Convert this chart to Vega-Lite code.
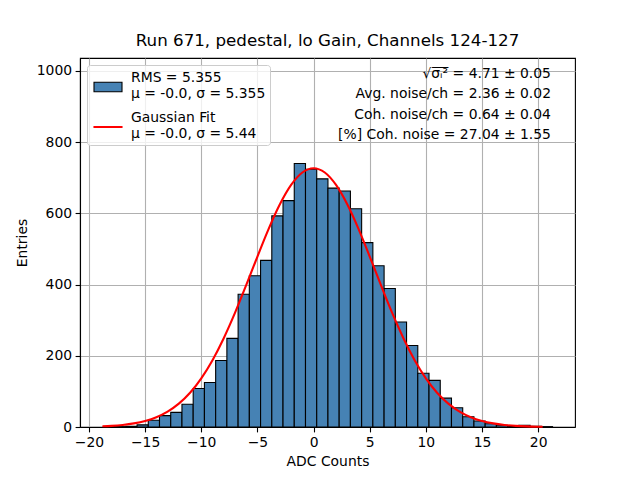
{
  "$schema": "https://vega.github.io/schema/vega-lite/v6.json",
  "description": "Pedestal noise histogram with Gaussian fit",
  "autosize": {"type": "none"},
  "padding": {"left": 80, "top": 58, "right": 65, "bottom": 53},
  "width": 495,
  "height": 369,
  "background": "white",
  "config": {
    "font": "DejaVu Sans",
    "view": {"stroke": "black", "strokeWidth": 1.1},
    "axis": {
      "labelFontSize": 13.9,
      "titleFontSize": 13.9,
      "titleFontWeight": "normal",
      "labelColor": "black",
      "titleColor": "black",
      "tickColor": "black",
      "tickSize": 4.9,
      "tickWidth": 1.1,
      "domainColor": "black",
      "domainWidth": 1.1,
      "gridColor": "#b0b0b0",
      "gridWidth": 1.1,
      "labelPadding": 3.5,
      "labelFlush": false,
      "labelOverlap": false,
      "zindex": 1
    }
  },
  "title": {
    "text": "Run 671, pedestal, lo Gain, Channels 124-127",
    "fontSize": 16.7,
    "fontWeight": "normal",
    "color": "black",
    "anchor": "middle",
    "frame": "group",
    "offset": 8
  },
  "datasets": {
    "hist": [
      {"lo": -18.72, "hi": -17.72, "entries": 1},
      {"lo": -17.72, "hi": -16.72, "entries": 1},
      {"lo": -16.72, "hi": -15.72, "entries": 2},
      {"lo": -15.72, "hi": -14.72, "entries": 6},
      {"lo": -14.72, "hi": -13.72, "entries": 19},
      {"lo": -13.72, "hi": -12.72, "entries": 32},
      {"lo": -12.72, "hi": -11.72, "entries": 41},
      {"lo": -11.72, "hi": -10.72, "entries": 64},
      {"lo": -10.72, "hi": -9.72, "entries": 108},
      {"lo": -9.72, "hi": -8.72, "entries": 125},
      {"lo": -8.72, "hi": -7.72, "entries": 187},
      {"lo": -7.72, "hi": -6.72, "entries": 249},
      {"lo": -6.72, "hi": -5.72, "entries": 373},
      {"lo": -5.72, "hi": -4.72, "entries": 425},
      {"lo": -4.72, "hi": -3.72, "entries": 468},
      {"lo": -3.72, "hi": -2.72, "entries": 593},
      {"lo": -2.72, "hi": -1.72, "entries": 636},
      {"lo": -1.72, "hi": -0.72, "entries": 740},
      {"lo": -0.72, "hi": 0.28, "entries": 724},
      {"lo": 0.28, "hi": 1.28, "entries": 697},
      {"lo": 1.28, "hi": 2.28, "entries": 671},
      {"lo": 2.28, "hi": 3.28, "entries": 663},
      {"lo": 3.28, "hi": 4.28, "entries": 613},
      {"lo": 4.28, "hi": 5.28, "entries": 518},
      {"lo": 5.28, "hi": 6.28, "entries": 453},
      {"lo": 6.28, "hi": 7.28, "entries": 389},
      {"lo": 7.28, "hi": 8.28, "entries": 295},
      {"lo": 8.28, "hi": 9.28, "entries": 229},
      {"lo": 9.28, "hi": 10.28, "entries": 151},
      {"lo": 10.28, "hi": 11.28, "entries": 131},
      {"lo": 11.28, "hi": 12.28, "entries": 81},
      {"lo": 12.28, "hi": 13.28, "entries": 54},
      {"lo": 13.28, "hi": 14.28, "entries": 29},
      {"lo": 14.28, "hi": 15.28, "entries": 17},
      {"lo": 15.28, "hi": 16.28, "entries": 9},
      {"lo": 16.28, "hi": 17.28, "entries": 5},
      {"lo": 17.28, "hi": 18.28, "entries": 3},
      {"lo": 18.28, "hi": 19.28, "entries": 5},
      {"lo": 19.28, "hi": 20.28, "entries": 2},
      {"lo": 20.28, "hi": 21.28, "entries": 1}
    ],
    "fit": [
      {"adc": -18.8, "fit": 2.0},
      {"adc": -18, "fit": 3.2},
      {"adc": -17, "fit": 5.8},
      {"adc": -16, "fit": 10.1},
      {"adc": -15, "fit": 16.9},
      {"adc": -14, "fit": 27.5},
      {"adc": -13, "fit": 43.2},
      {"adc": -12, "fit": 65.6},
      {"adc": -11, "fit": 96.3},
      {"adc": -10, "fit": 136.8},
      {"adc": -9, "fit": 187.8},
      {"adc": -8, "fit": 249.5},
      {"adc": -7, "fit": 320.5},
      {"adc": -6, "fit": 398.4},
      {"adc": -5, "fit": 478.7},
      {"adc": -4, "fit": 556.5},
      {"adc": -3, "fit": 625.5},
      {"adc": -2, "fit": 680.0},
      {"adc": -1, "fit": 714.9},
      {"adc": 0, "fit": 727.0},
      {"adc": 1, "fit": 714.9},
      {"adc": 2, "fit": 680.0},
      {"adc": 3, "fit": 625.5},
      {"adc": 4, "fit": 556.5},
      {"adc": 5, "fit": 478.7},
      {"adc": 6, "fit": 398.4},
      {"adc": 7, "fit": 320.5},
      {"adc": 8, "fit": 249.5},
      {"adc": 9, "fit": 187.8},
      {"adc": 10, "fit": 136.8},
      {"adc": 11, "fit": 96.3},
      {"adc": 12, "fit": 65.6},
      {"adc": 13, "fit": 43.2},
      {"adc": 14, "fit": 27.5},
      {"adc": 15, "fit": 16.9},
      {"adc": 16, "fit": 10.1},
      {"adc": 17, "fit": 5.8},
      {"adc": 18, "fit": 3.2},
      {"adc": 19, "fit": 1.7},
      {"adc": 20, "fit": 0.9},
      {"adc": 20.4, "fit": 0.7}
    ],
    "legend": [
      {"series": "RMS = 5.355|μ = -0.0, σ = 5.355"},
      {"series": "Gaussian Fit|μ = -0.0, σ = 5.44"}
    ]
  },
  "layer": [
    {
      "data": {"name": "hist"},
      "mark": {"type": "bar", "fill": "#4682b4", "stroke": "black", "strokeWidth": 1.1},
      "encoding": {
        "x": {
          "field": "lo",
          "type": "quantitative",
          "scale": {"domain": [-20.8, 23.28], "nice": false, "zero": false},
          "axis": {"values": [-20, -15, -10, -5, 0, 5, 10, 15, 20], "title": "ADC Counts", "titlePadding": 5}
        },
        "x2": {"field": "hi"},
        "y": {
          "field": "entries",
          "type": "quantitative",
          "scale": {"domain": [0, 1036.5], "nice": false},
          "axis": {"values": [0, 200, 400, 600, 800, 1000], "format": "d", "title": "Entries", "titlePadding": 7}
        },
        "y2": {"datum": 0}
      }
    },
    {
      "data": {"name": "fit"},
      "mark": {"type": "line", "color": "red", "strokeWidth": 2.1, "interpolate": "monotone"},
      "encoding": {
        "x": {"field": "adc", "type": "quantitative"},
        "y": {"field": "fit", "type": "quantitative"}
      }
    },
    {
      "data": {"name": "legend"},
      "mark": {"type": "point", "filled": true, "opacity": 0},
      "encoding": {
        "shape": {
          "field": "series",
          "type": "nominal",
          "scale": {
            "domain": ["RMS = 5.355|μ = -0.0, σ = 5.355", "Gaussian Fit|μ = -0.0, σ = 5.44"],
            "range": ["M-0.75,0.525H2.75V1.725H-0.75Z", "M-0.75,1.055H2.75V1.195H-0.75Z"]
          },
          "legend": {
            "title": null,
            "orient": "top-left",
            "offset": 7,
            "padding": 4,
            "fillColor": "rgba(255,255,255,0.8)",
            "strokeColor": "#cccccc",
            "cornerRadius": 3,
            "labelFontSize": 13.9,
            "labelColor": "black",
            "labelOffset": 22,
            "labelLimit": 400,
            "labelExpr": "split(datum.label, '|')",
            "symbolSize": 256,
            "symbolStrokeWidth": 1.1,
            "symbolOpacity": 1,
            "rowPadding": 8,
            "encode": {"labels": {"update": {"lineHeight": {"value": 18}}}}
          }
        },
        "color": {
          "field": "series",
          "type": "nominal",
          "scale": {
            "domain": ["RMS = 5.355|μ = -0.0, σ = 5.355", "Gaussian Fit|μ = -0.0, σ = 5.44"],
            "range": ["#4682b4", "red"]
          }
        },
        "stroke": {
          "field": "series",
          "type": "nominal",
          "scale": {
            "domain": ["RMS = 5.355|μ = -0.0, σ = 5.355", "Gaussian Fit|μ = -0.0, σ = 5.44"],
            "range": ["black", "red"]
          }
        }
      }
    },
    {
      "data": {"values": [{}]},
      "mark": {
        "type": "text",
        "align": "right",
        "baseline": "middle",
        "fontSize": 13.9,
        "lineHeight": 20.5,
        "color": "black",
        "text": [
          "√σ̅ᵢ̅²̅ = 4.71 ± 0.05",
          "Avg. noise/ch = 2.36 ± 0.02",
          "Coh. noise/ch = 0.64 ± 0.04",
          "[%] Coh. noise = 27.04 ± 1.55"
        ]
      },
      "encoding": {
        "x": {"datum": 21.14},
        "y": {"datum": 992}
      }
    }
  ]
}
